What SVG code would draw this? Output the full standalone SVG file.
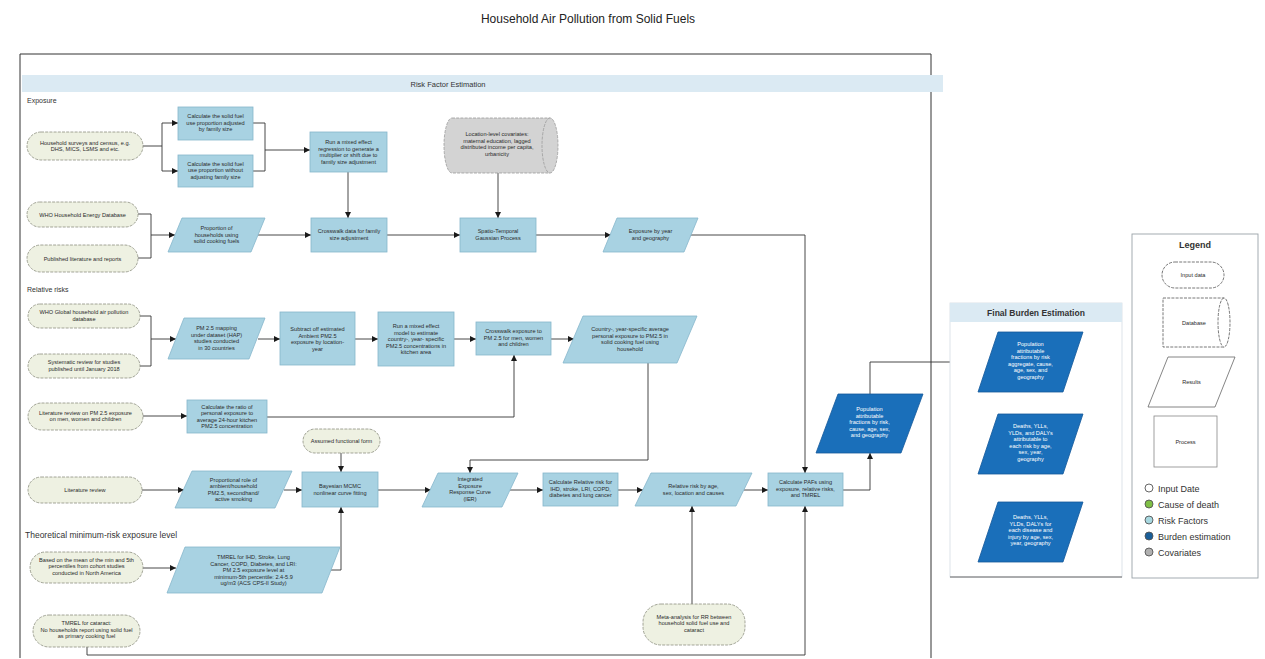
<svg xmlns="http://www.w3.org/2000/svg" width="1265" height="659" viewBox="0 0 1265 659">
<style>
  text { font-family: "Liberation Sans", "DejaVu Sans", sans-serif; }
  .t { font-size: 5.6px; fill: #2a2a2a; text-anchor: middle; }
  .tw { font-size: 5.6px; fill: #ffffff; text-anchor: middle; }
  .io { fill: #eef1e2; stroke: #8d8f80; stroke-width: 0.8; stroke-dasharray: 3 1.2; }
  .pr { fill: #a8d2e2; stroke: #86b6cb; stroke-width: 0.8; }
  .rs { fill: #a8d2e2; stroke: #86b6cb; stroke-width: 0.8; }
  .db { fill: #d3d3d3; stroke: #9a9a9a; stroke-width: 0.8; stroke-dasharray: 3 1.2; }
  .bd { fill: #1a6fba; stroke: #15599a; stroke-width: 0.8; }
  .ln { fill: none; stroke: #333333; stroke-width: 0.9; }
  .lg { fill: #ffffff; stroke: #555555; stroke-width: 0.8; stroke-dasharray: 3 1.2; }
  .sec { font-size: 7px; fill: #333333; }
  .leg { font-size: 9px; fill: #333333; }
</style>
<defs>
  <marker id="ah" viewBox="0 0 10 10" refX="10" refY="5" markerWidth="6" markerHeight="6" orient="auto" markerUnits="userSpaceOnUse">
    <path d="M0,0 L10,5 L0,10 z" fill="#1a1a1a"/>
  </marker>
</defs>
<rect x="0" y="0" width="1265" height="659" fill="#ffffff"/>

<text x="588" y="23" font-size="12" fill="#222" text-anchor="middle">Household Air Pollution from Solid Fuels</text>

<!-- outer frame of the risk factor section -->
<path d="M20,658 L20,54 L931,54 L931,658" fill="none" stroke="#333" stroke-width="1"/>
<rect x="22" y="75" width="921" height="17" fill="#dbeaf3"/>
<text x="448" y="86.5" font-size="7.5" fill="#333" text-anchor="middle">Risk Factor Estimation</text>

<text class="sec" x="27" y="103">Exposure</text>
<text class="sec" x="27" y="292">Relative risks</text>
<text x="25" y="538" font-size="8.5" fill="#333">Theoretical minimum-risk exposure level</text>

<!-- connectors -->
<g id="connectors">
  <path class="ln" d="M143,146 H162 M162,123 V171"/>
  <path class="ln" d="M162,123 H178" marker-end="url(#ah)"/>
  <path class="ln" d="M162,171 H178" marker-end="url(#ah)"/>
  <path class="ln" d="M253,123 H265 M253,171 H265 M265,123 V171"/>
  <path class="ln" d="M265,150 H310" marker-end="url(#ah)"/>
  <path class="ln" d="M348,172 V218" marker-end="url(#ah)"/>
  <path class="ln" d="M498,173 V218" marker-end="url(#ah)"/>
  <path class="ln" d="M138,214 H151 M138,258 H151 M151,214 V258"/>
  <path class="ln" d="M151,235 H175" marker-end="url(#ah)"/>
  <path class="ln" d="M258,235 H311" marker-end="url(#ah)"/>
  <path class="ln" d="M387,235 H460" marker-end="url(#ah)"/>
  <path class="ln" d="M536,235 H611" marker-end="url(#ah)"/>
  <path class="ln" d="M690,235 H805 V473" marker-end="url(#ah)"/>

  <path class="ln" d="M140,316 H151 M140,366 H151 M151,316 V366"/>
  <path class="ln" d="M151,339 H176" marker-end="url(#ah)"/>
  <path class="ln" d="M258,339 H280" marker-end="url(#ah)"/>
  <path class="ln" d="M355,339 H378" marker-end="url(#ah)"/>
  <path class="ln" d="M454,339 H476" marker-end="url(#ah)"/>
  <path class="ln" d="M551,339 H574" marker-end="url(#ah)"/>
  <path class="ln" d="M648,363 V460 H470 V473" marker-end="url(#ah)"/>
  <path class="ln" d="M143,416 H187" marker-end="url(#ah)"/>
  <path class="ln" d="M267,417 H514 V355" marker-end="url(#ah)"/>

  <path class="ln" d="M341,453 V472" marker-end="url(#ah)"/>
  <path class="ln" d="M142,490 H184" marker-end="url(#ah)"/>
  <path class="ln" d="M284,490 H302" marker-end="url(#ah)"/>
  <path class="ln" d="M378,490 H431" marker-end="url(#ah)"/>
  <path class="ln" d="M510,490 H543" marker-end="url(#ah)"/>
  <path class="ln" d="M618,490 H643" marker-end="url(#ah)"/>
  <path class="ln" d="M744,490 H768" marker-end="url(#ah)"/>
  <path class="ln" d="M331,570 H341 V507" marker-end="url(#ah)"/>
  <path class="ln" d="M143,568 H176" marker-end="url(#ah)"/>
  <path class="ln" d="M87,647 V655 H805 V506" marker-end="url(#ah)"/>
  <path class="ln" d="M692,604 V506" marker-end="url(#ah)"/>

  <path class="ln" d="M843,490 H870 V453" marker-end="url(#ah)"/>
  <path class="ln" d="M870,394 V362 H988" marker-end="url(#ah)"/>
  <path class="ln" d="M1030,392 V414" marker-end="url(#ah)"/>
  <path class="ln" d="M1030,502 V474" marker-end="url(#ah)"/>
</g>

<!-- exposure -->
<g id="n-surveys">
  <rect class="io" x="27" y="132" width="116" height="28" rx="14"/>
  <text class="t" x="85" y="144.5"><tspan x="85">Household surveys and census, e.g.</tspan><tspan x="85" dy="6.5">DHS, MICS, LSMS and etc.</tspan></text>
</g>
<g id="n-adjusted">
  <rect class="pr" x="178" y="107" width="75" height="33"/>
  <text class="t" x="215.5" y="118"><tspan x="215.5">Calculate the solid fuel</tspan><tspan x="215.5" dy="6.5">use proportion adjusted</tspan><tspan x="215.5" dy="6.5">by family size</tspan></text>
</g>
<g id="n-unadjusted">
  <rect class="pr" x="178" y="155" width="75" height="32"/>
  <text class="t" x="215.5" y="165.5"><tspan x="215.5">Calculate the solid fuel</tspan><tspan x="215.5" dy="6.5">use proportion without</tspan><tspan x="215.5" dy="6.5">adjusting family size</tspan></text>
</g>
<g id="n-regression">
  <rect class="pr" x="310" y="132" width="77" height="40"/>
  <text class="t" x="348.5" y="144"><tspan x="348.5">Run a mixed effect</tspan><tspan x="348.5" dy="6.5">regression to generate a</tspan><tspan x="348.5" dy="6.5">multiplier or shift due to</tspan><tspan x="348.5" dy="6.5">family size adjustment</tspan></text>
</g>
<g id="n-covariates">
  <path class="db" d="M452,118 H550 A8,27.5 0 0 1 550,173 H452 A8,27.5 0 0 1 452,118 z"/>
  <path class="db" d="M550,118 A8,27.5 0 0 0 550,173" fill="none"/>
  <text class="t" x="497" y="136"><tspan x="497">Location-level covariates:</tspan><tspan x="497" dy="6.5">maternal education, lagged</tspan><tspan x="497" dy="6.5">distributed income per capita,</tspan><tspan x="497" dy="6.5">urbanicity</tspan></text>
</g>
<g id="n-who-energy">
  <rect class="io" x="27" y="202" width="111" height="25" rx="12.5"/>
  <text class="t" x="82.5" y="216.5">WHO Household Energy Database</text>
</g>
<g id="n-published">
  <rect class="io" x="27" y="245" width="111" height="27" rx="13.5"/>
  <text class="t" x="82.5" y="260.5">Published literature and reports</text>
</g>
<g id="n-proportion">
  <polygon class="rs" points="182,218 265,218 251,252 168,252"/>
  <text class="t" x="216.5" y="230"><tspan x="216.5">Proportion of</tspan><tspan x="216.5" dy="6.5">households using</tspan><tspan x="216.5" dy="6.5">solid cooking fuels</tspan></text>
</g>
<g id="n-crosswalk-size">
  <rect class="pr" x="311" y="218" width="76" height="34"/>
  <text class="t" x="349" y="233"><tspan x="349">Crosswalk data for family</tspan><tspan x="349" dy="6.5">size adjustment</tspan></text>
</g>
<g id="n-stgpr">
  <rect class="pr" x="460" y="218" width="76" height="34"/>
  <text class="t" x="498" y="233"><tspan x="498">Spatio-Temporal</tspan><tspan x="498" dy="6.5">Gaussian Process</tspan></text>
</g>
<g id="n-exposure">
  <polygon class="rs" points="617,218 698,218 684,252 603,252"/>
  <text class="t" x="650.5" y="233"><tspan x="650.5">Exposure by year</tspan><tspan x="650.5" dy="6.5">and geography</tspan></text>
</g>

<!-- relative risks -->
<g id="n-who-global">
  <rect class="io" x="28" y="304" width="112" height="24" rx="12"/>
  <text class="t" x="84" y="314"><tspan x="84">WHO Global household air pollution</tspan><tspan x="84" dy="6.5">database</tspan></text>
</g>
<g id="n-sysreview">
  <rect class="io" x="28" y="354" width="112" height="24" rx="12"/>
  <text class="t" x="84" y="364"><tspan x="84">Systematic review for studies</tspan><tspan x="84" dy="6.5">published until January 2018</tspan></text>
</g>
<g id="n-pm-mapping">
  <polygon class="rs" points="184,318 265,318 249,359 168,359"/>
  <text class="t" x="216.5" y="330"><tspan x="216.5">PM 2.5 mapping</tspan><tspan x="216.5" dy="6.5">under dataset (HAP)</tspan><tspan x="216.5" dy="6.5">studies conducted</tspan><tspan x="216.5" dy="6.5">in 30 countries</tspan></text>
</g>
<g id="n-subtract">
  <rect class="pr" x="280" y="312" width="75" height="53"/>
  <text class="t" x="317.5" y="331"><tspan x="317.5">Subtract off estimated</tspan><tspan x="317.5" dy="6.5">Ambient PM2.5</tspan><tspan x="317.5" dy="6.5">exposure by location-</tspan><tspan x="317.5" dy="6.5">year</tspan></text>
</g>
<g id="n-kitchen-model">
  <rect class="pr" x="378" y="312" width="76" height="54"/>
  <text class="t" x="416" y="328"><tspan x="416">Run a mixed effect</tspan><tspan x="416" dy="6.5">model to estimate</tspan><tspan x="416" dy="6.5">country-, year- specific</tspan><tspan x="416" dy="6.5">PM2.5 concentrations in</tspan><tspan x="416" dy="6.5">kitchen area</tspan></text>
</g>
<g id="n-crosswalk-exposure">
  <rect class="pr" x="476" y="322" width="75" height="33"/>
  <text class="t" x="513.5" y="333"><tspan x="513.5">Crosswalk exposure to</tspan><tspan x="513.5" dy="6.5">PM 2.5 for men, women</tspan><tspan x="513.5" dy="6.5">and children</tspan></text>
</g>
<g id="n-personal-exposure">
  <polygon class="rs" points="583,316 697,316 677,363 563,363"/>
  <text class="t" x="630" y="331"><tspan x="630">Country-, year-specific average</tspan><tspan x="630" dy="6.5">personal exposure to PM2.5 in</tspan><tspan x="630" dy="6.5">solid cooking fuel using</tspan><tspan x="630" dy="6.5">household</tspan></text>
</g>
<g id="n-lit-pm">
  <rect class="io" x="28" y="403" width="115" height="27" rx="13.5"/>
  <text class="t" x="85.5" y="414.5"><tspan x="85.5">Literature review on PM 2.5 exposure</tspan><tspan x="85.5" dy="6.5">on men, women and children</tspan></text>
</g>
<g id="n-ratio">
  <rect class="pr" x="187" y="400" width="80" height="33"/>
  <text class="t" x="227" y="408.5"><tspan x="227">Calculate the ratio of</tspan><tspan x="227" dy="6.5">personal exposure to</tspan><tspan x="227" dy="6.5">average 24-hour kitchen</tspan><tspan x="227" dy="6.5">PM2.5 concentration</tspan></text>
</g>
<g id="n-functional-form">
  <rect class="io" x="303" y="429" width="77" height="24" rx="12"/>
  <text class="t" x="341.5" y="443">Assumed functional form</text>
</g>
<g id="n-lit-review">
  <rect class="io" x="28" y="477" width="114" height="26" rx="13"/>
  <text class="t" x="85" y="492">Literature review</text>
</g>
<g id="n-proportional-role">
  <polygon class="rs" points="192,471 292,471 275,508 175,508"/>
  <text class="t" x="233.5" y="481.5"><tspan x="233.5">Proportional role of</tspan><tspan x="233.5" dy="6.5">ambient/household</tspan><tspan x="233.5" dy="6.5">PM2.5, secondhand/</tspan><tspan x="233.5" dy="6.5">active smoking</tspan></text>
</g>
<g id="n-bayesian">
  <rect class="pr" x="302" y="472" width="76" height="35"/>
  <text class="t" x="340" y="488"><tspan x="340">Bayesian MCMC</tspan><tspan x="340" dy="6.5">nonlinear curve fitting</tspan></text>
</g>
<g id="n-ier">
  <polygon class="rs" points="438,473 518,473 502,507 422,507"/>
  <text class="t" x="470" y="481"><tspan x="470">Integrated</tspan><tspan x="470" dy="6.5">Exposure</tspan><tspan x="470" dy="6.5">Response Curve</tspan><tspan x="470" dy="6.5">(IER)</tspan></text>
</g>
<g id="n-calc-rr">
  <rect class="pr" x="543" y="473" width="75" height="33"/>
  <text class="t" x="580.5" y="484"><tspan x="580.5">Calculate Relative risk for</tspan><tspan x="580.5" dy="6.5">IHD, stroke, LRI, COPD,</tspan><tspan x="580.5" dy="6.5">diabetes and lung cancer</tspan></text>
</g>
<g id="n-rr-age">
  <polygon class="rs" points="651,473 752,473 736,506 635,506"/>
  <text class="t" x="693.5" y="488"><tspan x="693.5">Relative risk by age,</tspan><tspan x="693.5" dy="6.5">sex, location and causes</tspan></text>
</g>
<g id="n-calc-paf">
  <rect class="pr" x="768" y="473" width="75" height="33"/>
  <text class="t" x="805.5" y="484"><tspan x="805.5">Calculate PAFs using</tspan><tspan x="805.5" dy="6.5">exposure, relative risks,</tspan><tspan x="805.5" dy="6.5">and TMREL</tspan></text>
</g>
<g id="n-paf-result">
  <polygon class="bd" points="838,394 923,394 901,453 816,453"/>
  <text class="tw" x="869.5" y="411"><tspan x="869.5">Population</tspan><tspan x="869.5" dy="6.5">attributable</tspan><tspan x="869.5" dy="6.5">fractions by risk,</tspan><tspan x="869.5" dy="6.5">cause, age, sex,</tspan><tspan x="869.5" dy="6.5">and geography</tspan></text>
</g>

<!-- theoretical minimum-risk exposure level -->
<g id="n-tmrel-basis">
  <rect class="io" x="30" y="552" width="113" height="31" rx="15.5"/>
  <text class="t" x="86.5" y="561.5"><tspan x="86.5">Based on the mean of the min and 5th</tspan><tspan x="86.5" dy="6.5">percentiles from cohort studies</tspan><tspan x="86.5" dy="6.5">conducted in North America</tspan></text>
</g>
<g id="n-tmrel">
  <polygon class="rs" points="185,547 340,547 322,593 167,593"/>
  <text class="t" x="253.5" y="559"><tspan x="253.5">TMREL for IHD, Stroke, Lung</tspan><tspan x="253.5" dy="6.5">Cancer, COPD, Diabetes, and LRI:</tspan><tspan x="253.5" dy="6.5">PM 2.5 exposure level at</tspan><tspan x="253.5" dy="6.5">minimum-5th percentile: 2.4-5.9</tspan><tspan x="253.5" dy="6.5">ug/m3 (ACS CPS-II Study)</tspan></text>
</g>
<g id="n-tmrel-cataract">
  <rect class="io" x="33" y="615" width="107" height="32" rx="16"/>
  <text class="t" x="86.5" y="625"><tspan x="86.5">TMREL for cataract:</tspan><tspan x="86.5" dy="6.5">No households report using solid fuel</tspan><tspan x="86.5" dy="6.5">as primary cooking fuel</tspan></text>
</g>
<g id="n-meta-analysis">
  <rect class="io" x="643" y="604" width="102" height="41" rx="18"/>
  <text class="t" x="694" y="618.5"><tspan x="694">Meta-analysis for RR between</tspan><tspan x="694" dy="6.5">household solid fuel use and</tspan><tspan x="694" dy="6.5">cataract</tspan></text>
</g>

<!-- final burden estimation -->
<g id="final-burden">
  <rect x="950" y="303" width="172" height="274" fill="#ffffff" stroke="#d5dde3" stroke-width="0.8"/>
  <line x1="950" y1="577" x2="1122" y2="577" stroke="#444" stroke-width="0.8"/>
  <rect x="950" y="303" width="172" height="19" fill="#dbeaf3"/>
  <text x="1036" y="316" font-size="8.5" font-weight="bold" fill="#333" text-anchor="middle">Final Burden Estimation</text>
</g>
<g id="n-paf-aggregate">
  <polygon class="bd" points="998,332 1083,332 1063,392 978,392"/>
  <text class="tw" x="1030.5" y="346"><tspan x="1030.5">Population</tspan><tspan x="1030.5" dy="6.5">attributable</tspan><tspan x="1030.5" dy="6.5">fractions by risk</tspan><tspan x="1030.5" dy="6.5">aggregate, cause,</tspan><tspan x="1030.5" dy="6.5">age, sex, and</tspan><tspan x="1030.5" dy="6.5">geography</tspan></text>
</g>
<g id="n-attributable-burden">
  <polygon class="bd" points="998,414 1083,414 1063,474 978,474"/>
  <text class="tw" x="1030.5" y="428"><tspan x="1030.5">Deaths, YLLs,</tspan><tspan x="1030.5" dy="6.5">YLDs, and DALYs</tspan><tspan x="1030.5" dy="6.5">attributable to</tspan><tspan x="1030.5" dy="6.5">each risk by age,</tspan><tspan x="1030.5" dy="6.5">sex, year,</tspan><tspan x="1030.5" dy="6.5">geography</tspan></text>
</g>
<g id="n-disease-burden">
  <polygon class="bd" points="998,502 1083,502 1063,562 978,562"/>
  <text class="tw" x="1030.5" y="519"><tspan x="1030.5">Deaths, YLLs,</tspan><tspan x="1030.5" dy="6.5">YLDs, DALYs for</tspan><tspan x="1030.5" dy="6.5">each disease and</tspan><tspan x="1030.5" dy="6.5">injury by age, sex,</tspan><tspan x="1030.5" dy="6.5">year, geography</tspan></text>
</g>

<!-- legend -->
<g id="legend">
  <rect x="1132" y="234" width="126" height="344" fill="#ffffff" stroke="#9aa3a8" stroke-width="0.9"/>
  <text x="1195" y="248" font-size="9" font-weight="bold" fill="#333" text-anchor="middle">Legend</text>
  <rect class="lg" x="1162" y="262" width="62" height="26" rx="13"/>
  <text class="t" x="1193" y="277">Input data</text>
  <path class="lg" d="M1163,298 H1224 A6,24.5 0 0 1 1224,347 H1163 Z" fill="#ffffff"/>
  <path class="lg" d="M1224,298 A6,24.5 0 0 0 1224,347" fill="none"/>
  <text class="t" x="1194" y="324.5">Database</text>
  <polygon points="1168,357 1235,357 1215,407 1148,407" fill="#ffffff" stroke="#666" stroke-width="0.8"/>
  <text class="t" x="1191.5" y="384">Results</text>
  <rect x="1154" y="416" width="63" height="51" fill="#ffffff" stroke="#888" stroke-width="0.8"/>
  <text class="t" x="1185.5" y="443.5">Process</text>
  <circle cx="1149" cy="488" r="4" fill="#ffffff" stroke="#555" stroke-width="0.9"/>
  <text class="leg" x="1158" y="491.5">Input Date</text>
  <circle cx="1149" cy="504" r="4" fill="#7fbf45" stroke="#555" stroke-width="0.9"/>
  <text class="leg" x="1158" y="507.5">Cause of death</text>
  <circle cx="1149" cy="520" r="4" fill="#a8d8e0" stroke="#555" stroke-width="0.9"/>
  <text class="leg" x="1158" y="523.5">Risk Factors</text>
  <circle cx="1149" cy="536" r="4" fill="#1a5f99" stroke="#555" stroke-width="0.9"/>
  <text class="leg" x="1158" y="539.5">Burden estimation</text>
  <circle cx="1149" cy="552" r="4" fill="#b0b0b0" stroke="#555" stroke-width="0.9"/>
  <text class="leg" x="1158" y="555.5">Covariates</text>
</g>
</svg>
